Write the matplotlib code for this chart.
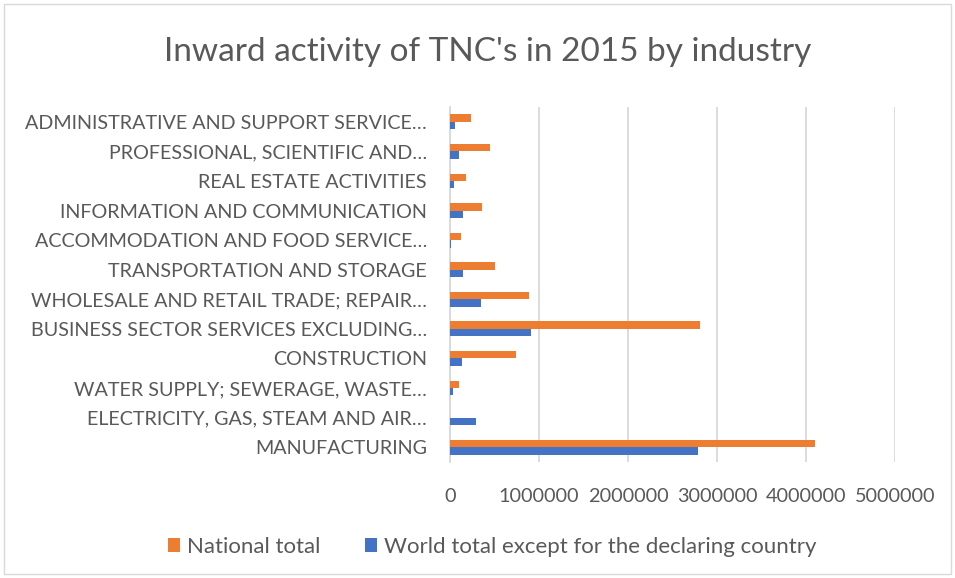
import matplotlib
matplotlib.use("Agg")
import matplotlib.pyplot as plt
from matplotlib.patches import Rectangle
import numpy as np

categories = [
    "MANUFACTURING",
    "ELECTRICITY, GAS, STEAM AND AIR…",
    "WATER SUPPLY; SEWERAGE, WASTE…",
    "CONSTRUCTION",
    "BUSINESS SECTOR SERVICES EXCLUDING…",
    "WHOLESALE AND RETAIL TRADE; REPAIR…",
    "TRANSPORTATION AND STORAGE",
    "ACCOMMODATION AND FOOD SERVICE…",
    "INFORMATION AND COMMUNICATION",
    "REAL ESTATE ACTIVITIES",
    "PROFESSIONAL, SCIENTIFIC AND…",
    "ADMINISTRATIVE AND SUPPORT SERVICE…",
]
national_total = [4100000, 0, 101000, 742000, 2806000, 891000, 509000, 124000, 360000, 180000, 446000, 236000]
world_total = [2790000, 296000, 34000, 138000, 907000, 345000, 143000, 15000, 143000, 42000, 105000, 56000]
xticks = [0, 1000000, 2000000, 3000000, 4000000, 5000000]

plt.rcParams['font.family'] = ['Lato', 'DejaVu Sans']
TXT = '#595959'
ORANGE = '#ED7D31'
BLUE = '#4472C4'

fig = plt.figure(figsize=(9.55, 5.78), dpi=100)
ax = fig.add_axes([450/955, 1-462/578, (895-450)/955, (462-107)/578])

y = np.arange(len(categories))
h = 0.25
ax.barh(y + h/2, national_total, height=h, color=ORANGE, label='National total', zorder=3)
ax.barh(y - h/2, world_total, height=h, color=BLUE, label='World total except for the declaring country', zorder=3)

ax.set_xlim(0, 5000000)
ax.set_ylim(-0.5, len(categories) - 0.5)
ax.set_xticks(xticks)
ax.set_xticklabels([str(v) for v in xticks], fontsize=14.3, color=TXT)
ax.set_yticks(y)
ax.set_yticklabels(categories, fontsize=14.2, color=TXT)
ax.tick_params(axis='both', length=0)
ax.tick_params(axis='y', pad=16.5)
ax.tick_params(axis='x', pad=19)
ax.grid(axis='x', color='#D9D9D9', linewidth=1.3, zorder=0)
for s in ['top', 'right', 'bottom']:
    ax.spines[s].set_visible(False)
ax.spines['left'].set_color('#D9D9D9')
ax.spines['left'].set_linewidth(1.3)

fig.text(488/955, 1-52/578, "Inward activity of TNC's in 2015 by industry",
         ha='center', va='center', fontsize=24, color=TXT)

handles, labels = ax.get_legend_handles_labels()
fig.legend(handles, labels, loc='center', bbox_to_anchor=(492/955, 1-547/578),
           ncol=2, frameon=False, fontsize=16, labelcolor=TXT,
           handlelength=0.55, handleheight=0.55, handletextpad=0.3, columnspacing=2.0)

fig.patches.append(Rectangle((4/955, 4/578), 1-8/955, 1-8/578, transform=fig.transFigure,
                             fill=False, edgecolor='#D9D9D9', linewidth=1))

fig.savefig('out.png', dpi=100)
